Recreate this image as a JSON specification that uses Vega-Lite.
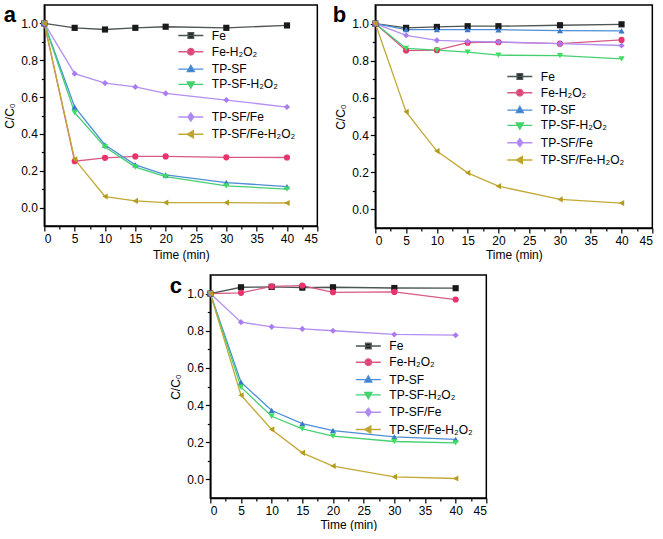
{
  "$schema": "https://vega.github.io/schema/vega-lite/v6.json",
  "padding": {"left": 2, "top": 2, "right": 0, "bottom": 0},
  "background": "white",
  "config": {
    "font": "Liberation Sans",
    "view": {"stroke": "black", "strokeWidth": 1.5},
    "axis": {"domainColor": "black", "domainWidth": 1.5, "tickColor": "black", "tickWidth": 1.2, "tickSize": 5, "labelFont": "Liberation Sans", "labelFontSize": 12, "labelColor": "black", "labelPadding": 2, "titleFont": "Liberation Sans", "titleFontSize": 12, "titleFontWeight": "normal", "titleColor": "black", "grid": false},
    "legend": {"labelFont": "Liberation Sans", "labelFontSize": 12, "labelColor": "black", "symbolSize": 100, "labelOffset": 15, "rowPadding": 3.3, "padding": 0, "symbolStrokeWidth": 1.4, "symbolOpacity": 1, "title": null}
  },
  "datasets": {
    "a": [
      {"s":"Fe","t":0,"c":1.0},{"s":"Fe","t":5,"c":0.976},{"s":"Fe","t":10,"c":0.967},{"s":"Fe","t":15,"c":0.976},{"s":"Fe","t":20,"c":0.982},{"s":"Fe","t":30,"c":0.976},{"s":"Fe","t":40,"c":0.989},
      {"s":"Fe-H₂O₂","t":0,"c":1.0},{"s":"Fe-H₂O₂","t":5,"c":0.252},{"s":"Fe-H₂O₂","t":10,"c":0.27},{"s":"Fe-H₂O₂","t":15,"c":0.278},{"s":"Fe-H₂O₂","t":20,"c":0.278},{"s":"Fe-H₂O₂","t":30,"c":0.273},{"s":"Fe-H₂O₂","t":40,"c":0.272},
      {"s":"TP-SF","t":0,"c":1.0},{"s":"TP-SF","t":5,"c":0.546},{"s":"TP-SF","t":10,"c":0.34},{"s":"TP-SF","t":15,"c":0.232},{"s":"TP-SF","t":20,"c":0.177},{"s":"TP-SF","t":30,"c":0.136},{"s":"TP-SF","t":40,"c":0.114},
      {"s":"TP-SF-H₂O₂","t":0,"c":1.0},{"s":"TP-SF-H₂O₂","t":5,"c":0.515},{"s":"TP-SF-H₂O₂","t":10,"c":0.329},{"s":"TP-SF-H₂O₂","t":15,"c":0.22},{"s":"TP-SF-H₂O₂","t":20,"c":0.168},{"s":"TP-SF-H₂O₂","t":30,"c":0.118},{"s":"TP-SF-H₂O₂","t":40,"c":0.1},
      {"s":"TP-SF/Fe","t":0,"c":1.0},{"s":"TP-SF/Fe","t":5,"c":0.727},{"s":"TP-SF/Fe","t":10,"c":0.676},{"s":"TP-SF/Fe","t":15,"c":0.655},{"s":"TP-SF/Fe","t":20,"c":0.62},{"s":"TP-SF/Fe","t":30,"c":0.584},{"s":"TP-SF/Fe","t":40,"c":0.546},
      {"s":"TP-SF/Fe-H₂O₂","t":0,"c":1.0},{"s":"TP-SF/Fe-H₂O₂","t":5,"c":0.262},{"s":"TP-SF/Fe-H₂O₂","t":10,"c":0.06},{"s":"TP-SF/Fe-H₂O₂","t":15,"c":0.036},{"s":"TP-SF/Fe-H₂O₂","t":20,"c":0.027},{"s":"TP-SF/Fe-H₂O₂","t":30,"c":0.027},{"s":"TP-SF/Fe-H₂O₂","t":40,"c":0.025}
    ],
    "b": [
      {"s":"Fe","t":0,"c":1.0},{"s":"Fe","t":5,"c":0.977},{"s":"Fe","t":10,"c":0.982},{"s":"Fe","t":15,"c":0.986},{"s":"Fe","t":20,"c":0.986},{"s":"Fe","t":30,"c":0.991},{"s":"Fe","t":40,"c":0.996},
      {"s":"Fe-H₂O₂","t":0,"c":1.0},{"s":"Fe-H₂O₂","t":5,"c":0.855},{"s":"Fe-H₂O₂","t":10,"c":0.857},{"s":"Fe-H₂O₂","t":15,"c":0.897},{"s":"Fe-H₂O₂","t":20,"c":0.9},{"s":"Fe-H₂O₂","t":30,"c":0.892},{"s":"Fe-H₂O₂","t":40,"c":0.912},
      {"s":"TP-SF","t":0,"c":1.0},{"s":"TP-SF","t":5,"c":0.968},{"s":"TP-SF","t":10,"c":0.968},{"s":"TP-SF","t":15,"c":0.968},{"s":"TP-SF","t":20,"c":0.967},{"s":"TP-SF","t":30,"c":0.962},{"s":"TP-SF","t":40,"c":0.961},
      {"s":"TP-SF-H₂O₂","t":0,"c":1.0},{"s":"TP-SF-H₂O₂","t":5,"c":0.866},{"s":"TP-SF-H₂O₂","t":10,"c":0.857},{"s":"TP-SF-H₂O₂","t":15,"c":0.846},{"s":"TP-SF-H₂O₂","t":20,"c":0.83},{"s":"TP-SF-H₂O₂","t":30,"c":0.828},{"s":"TP-SF-H₂O₂","t":40,"c":0.81},
      {"s":"TP-SF/Fe","t":0,"c":1.0},{"s":"TP-SF/Fe","t":5,"c":0.937},{"s":"TP-SF/Fe","t":10,"c":0.91},{"s":"TP-SF/Fe","t":15,"c":0.904},{"s":"TP-SF/Fe","t":20,"c":0.901},{"s":"TP-SF/Fe","t":30,"c":0.892},{"s":"TP-SF/Fe","t":40,"c":0.882},
      {"s":"TP-SF/Fe-H₂O₂","t":0,"c":1.0},{"s":"TP-SF/Fe-H₂O₂","t":5,"c":0.525},{"s":"TP-SF/Fe-H₂O₂","t":10,"c":0.314},{"s":"TP-SF/Fe-H₂O₂","t":15,"c":0.197},{"s":"TP-SF/Fe-H₂O₂","t":20,"c":0.125},{"s":"TP-SF/Fe-H₂O₂","t":30,"c":0.054},{"s":"TP-SF/Fe-H₂O₂","t":40,"c":0.034}
    ],
    "c": [
      {"s":"Fe","t":0,"c":1.0},{"s":"Fe","t":5,"c":1.034},{"s":"Fe","t":10,"c":1.036},{"s":"Fe","t":15,"c":1.032},{"s":"Fe","t":20,"c":1.034},{"s":"Fe","t":30,"c":1.03},{"s":"Fe","t":40,"c":1.029},
      {"s":"Fe-H₂O₂","t":0,"c":1.0},{"s":"Fe-H₂O₂","t":5,"c":1.004},{"s":"Fe-H₂O₂","t":10,"c":1.039},{"s":"Fe-H₂O₂","t":15,"c":1.043},{"s":"Fe-H₂O₂","t":20,"c":1.007},{"s":"Fe-H₂O₂","t":30,"c":1.009},{"s":"Fe-H₂O₂","t":40,"c":0.968},
      {"s":"TP-SF","t":0,"c":1.0},{"s":"TP-SF","t":5,"c":0.523},{"s":"TP-SF","t":10,"c":0.371},{"s":"TP-SF","t":15,"c":0.3},{"s":"TP-SF","t":20,"c":0.263},{"s":"TP-SF","t":30,"c":0.229},{"s":"TP-SF","t":40,"c":0.215},
      {"s":"TP-SF-H₂O₂","t":0,"c":1.0},{"s":"TP-SF-H₂O₂","t":5,"c":0.496},{"s":"TP-SF-H₂O₂","t":10,"c":0.34},{"s":"TP-SF-H₂O₂","t":15,"c":0.272},{"s":"TP-SF-H₂O₂","t":20,"c":0.233},{"s":"TP-SF-H₂O₂","t":30,"c":0.204},{"s":"TP-SF-H₂O₂","t":40,"c":0.197},
      {"s":"TP-SF/Fe","t":0,"c":1.0},{"s":"TP-SF/Fe","t":5,"c":0.846},{"s":"TP-SF/Fe","t":10,"c":0.821},{"s":"TP-SF/Fe","t":15,"c":0.81},{"s":"TP-SF/Fe","t":20,"c":0.8},{"s":"TP-SF/Fe","t":30,"c":0.78},{"s":"TP-SF/Fe","t":40,"c":0.776},
      {"s":"TP-SF/Fe-H₂O₂","t":0,"c":1.0},{"s":"TP-SF/Fe-H₂O₂","t":5,"c":0.453},{"s":"TP-SF/Fe-H₂O₂","t":10,"c":0.269},{"s":"TP-SF/Fe-H₂O₂","t":15,"c":0.143},{"s":"TP-SF/Fe-H₂O₂","t":20,"c":0.072},{"s":"TP-SF/Fe-H₂O₂","t":30,"c":0.014},{"s":"TP-SF/Fe-H₂O₂","t":40,"c":0.005}
    ]
  },
  "vconcat": [
    {
      "hconcat": [
        {
          "width": 273, "height": 221,
          "data": {"name": "a"},
          "layer": [
            {"mark": {"type": "line", "strokeWidth": 1.3},
             "encoding": {
               "x": {"field": "t", "type": "quantitative", "scale": {"domain": [0, 45], "nice": false, "zero": false}, "axis": {"values": [0,5,10,15,20,25,30,35,40,45], "title": "Time (min)", "titlePadding": 5}},
               "y": {"field": "c", "type": "quantitative", "scale": {"domain": [-0.1, 1.1], "nice": false, "zero": false}, "axis": {"values": [0,0.2,0.4,0.6,0.8,1.0], "format": ".1f", "title": "C/C₀", "titlePadding": 4}},
               "detail": {"field": "s", "type": "nominal"},
               "stroke": {"condition": [{"test": "datum.s==='Fe'", "value": "#4d5555"}, {"test": "datum.s==='Fe-H₂O₂'", "value": "#d85a85"}, {"test": "datum.s==='TP-SF'", "value": "#4c8fd6"}, {"test": "datum.s==='TP-SF-H₂O₂'", "value": "#45cf72"}, {"test": "datum.s==='TP-SF/Fe'", "value": "#b38ff2"}], "value": "#c2a935"}
             }},
            {"mark": {"type": "point", "filled": true, "opacity": 1, "size": 38, "strokeWidth": 0},
             "encoding": {
               "x": {"field": "t", "type": "quantitative", "axis": null},
               "y": {"field": "c", "type": "quantitative", "axis": null},
               "fill": {"condition": [{"test": "datum.s==='Fe'", "value": "#1a1a1a"}, {"test": "datum.s==='Fe-H₂O₂'", "value": "#e8336b"}, {"test": "datum.s==='TP-SF'", "value": "#3a78c9"}, {"test": "datum.s==='TP-SF-H₂O₂'", "value": "#3be05c"}, {"test": "datum.s==='TP-SF/Fe'", "value": "#a97cf2"}], "value": "#b49c1f"},
               "shape": {"condition": [{"test": "datum.s==='Fe'", "value": "square"}, {"test": "datum.s==='Fe-H₂O₂'", "value": "circle"}, {"test": "datum.s==='TP-SF'", "value": "triangle-up"}, {"test": "datum.s==='TP-SF-H₂O₂'", "value": "triangle-down"}, {"test": "datum.s==='TP-SF/Fe'", "value": "diamond"}], "value": "triangle-left"}
             }},
            {"transform": [{"filter": "datum.t < 0"}],
             "mark": {"type": "point", "filled": true, "opacity": 1},
             "encoding": {
               "x": {"field": "t", "type": "quantitative", "axis": null},
               "y": {"field": "c", "type": "quantitative", "axis": null},
               "fill": {"field": "s", "type": "nominal", "scale": {"domain": ["Fe","Fe-H₂O₂","TP-SF","TP-SF-H₂O₂"," ","TP-SF/Fe","TP-SF/Fe-H₂O₂"], "range": ["#1a1a1a","#e8336b","#3a78c9","#3be05c","transparent","#a97cf2","#b49c1f"]}, "legend": {"orient": "none", "legendX": 140.5, "legendY": 24.5}},
               "stroke": {"field": "s", "type": "nominal", "scale": {"domain": ["Fe","Fe-H₂O₂","TP-SF","TP-SF-H₂O₂"," ","TP-SF/Fe","TP-SF/Fe-H₂O₂"], "range": ["#4d5555","#d85a85","#4c8fd6","#45cf72","transparent","#b38ff2","#c2a935"]}, "legend": {"orient": "none", "legendX": 140.5, "legendY": 24.5}},
               "shape": {"field": "s", "type": "nominal", "scale": {"domain": ["Fe","Fe-H₂O₂","TP-SF","TP-SF-H₂O₂"," ","TP-SF/Fe","TP-SF/Fe-H₂O₂"], "range": ["M-2.5,0H2.5M-0.55,-0.55H0.55V0.55H-0.55Z","M-2.5,0H2.5M0.65,0A0.65,0.65 0 1,1 -0.65,0A0.65,0.65 0 1,1 0.65,0Z","M-2.5,0H2.5M0,-0.75L0.7,0.5H-0.7Z","M-2.5,0H2.5M0,0.75L0.7,-0.5H-0.7Z","M0,0","M-2.5,0H2.5M0,-0.8L0.6,0L0,0.8L-0.6,0Z","M-2.5,0H2.5M-0.75,0L0.5,-0.7V0.7Z"]}, "legend": {"orient": "none", "legendX": 140.5, "legendY": 24.5}}
             }},
            {"mark": {"type": "point", "opacity": 0},
             "encoding": {
               "x": {"field": "t", "type": "quantitative", "axis": {"orient": "bottom", "values": [2.5,7.5,12.5,17.5,22.5,27.5,32.5,37.5,42.5], "labels": false, "domain": false, "tickSize": 3, "title": null}},
               "y": {"field": "c", "type": "quantitative", "axis": {"orient": "left", "values": [0.1,0.3,0.5,0.7,0.9], "labels": false, "domain": false, "tickSize": 3, "title": "a", "titleAngle": 0, "titleX": -41, "titleY": 16, "titleAlign": "left", "titleBaseline": "alphabetic", "titleFontSize": 22, "titleFontWeight": "bold"}}
             }}
          ],
          "resolve": {"axis": {"x": "independent", "y": "independent"}}
        },
        {
          "width": 277, "height": 223,
          "data": {"name": "b"},
          "layer": [
            {"mark": {"type": "line", "strokeWidth": 1.3},
             "encoding": {
               "x": {"field": "t", "type": "quantitative", "scale": {"domain": [0, 45], "nice": false, "zero": false}, "axis": {"values": [0,5,10,15,20,25,30,35,40,45], "title": "Time (min)", "titlePadding": 3}},
               "y": {"field": "c", "type": "quantitative", "scale": {"domain": [-0.1, 1.1], "nice": false, "zero": false}, "axis": {"values": [0,0.2,0.4,0.6,0.8,1.0], "format": ".1f", "title": "C/C₀", "titlePadding": 4}},
               "detail": {"field": "s", "type": "nominal"},
               "stroke": {"condition": [{"test": "datum.s==='Fe'", "value": "#4d5555"}, {"test": "datum.s==='Fe-H₂O₂'", "value": "#d85a85"}, {"test": "datum.s==='TP-SF'", "value": "#4c8fd6"}, {"test": "datum.s==='TP-SF-H₂O₂'", "value": "#45cf72"}, {"test": "datum.s==='TP-SF/Fe'", "value": "#b38ff2"}], "value": "#c2a935"}
             }},
            {"mark": {"type": "point", "filled": true, "opacity": 1, "size": 38, "strokeWidth": 0},
             "encoding": {
               "x": {"field": "t", "type": "quantitative", "axis": null},
               "y": {"field": "c", "type": "quantitative", "axis": null},
               "fill": {"condition": [{"test": "datum.s==='Fe'", "value": "#1a1a1a"}, {"test": "datum.s==='Fe-H₂O₂'", "value": "#e8336b"}, {"test": "datum.s==='TP-SF'", "value": "#3a78c9"}, {"test": "datum.s==='TP-SF-H₂O₂'", "value": "#3be05c"}, {"test": "datum.s==='TP-SF/Fe'", "value": "#a97cf2"}], "value": "#b49c1f"},
               "shape": {"condition": [{"test": "datum.s==='Fe'", "value": "square"}, {"test": "datum.s==='Fe-H₂O₂'", "value": "circle"}, {"test": "datum.s==='TP-SF'", "value": "triangle-up"}, {"test": "datum.s==='TP-SF-H₂O₂'", "value": "triangle-down"}, {"test": "datum.s==='TP-SF/Fe'", "value": "diamond"}], "value": "triangle-left"}
             }},
            {"transform": [{"filter": "datum.t < 0"}],
             "mark": {"type": "point", "filled": true, "opacity": 1},
             "encoding": {
               "x": {"field": "t", "type": "quantitative", "axis": null},
               "y": {"field": "c", "type": "quantitative", "axis": null},
               "fill": {"field": "s", "type": "nominal", "scale": {"domain": ["Fe","Fe-H₂O₂","TP-SF","TP-SF-H₂O₂","TP-SF/Fe","TP-SF/Fe-H₂O₂"], "range": ["#1a1a1a","#e8336b","#3a78c9","#3be05c","#a97cf2","#b49c1f"]}, "legend": {"orient": "none", "legendX": 138.5, "legendY": 65.5}},
               "stroke": {"field": "s", "type": "nominal", "scale": {"domain": ["Fe","Fe-H₂O₂","TP-SF","TP-SF-H₂O₂","TP-SF/Fe","TP-SF/Fe-H₂O₂"], "range": ["#4d5555","#d85a85","#4c8fd6","#45cf72","#b38ff2","#c2a935"]}, "legend": {"orient": "none", "legendX": 138.5, "legendY": 65.5}},
               "shape": {"field": "s", "type": "nominal", "scale": {"domain": ["Fe","Fe-H₂O₂","TP-SF","TP-SF-H₂O₂","TP-SF/Fe","TP-SF/Fe-H₂O₂"], "range": ["M-2.5,0H2.5M-0.55,-0.55H0.55V0.55H-0.55Z","M-2.5,0H2.5M0.65,0A0.65,0.65 0 1,1 -0.65,0A0.65,0.65 0 1,1 0.65,0Z","M-2.5,0H2.5M0,-0.75L0.7,0.5H-0.7Z","M-2.5,0H2.5M0,0.75L0.7,-0.5H-0.7Z","M-2.5,0H2.5M0,-0.8L0.6,0L0,0.8L-0.6,0Z","M-2.5,0H2.5M-0.75,0L0.5,-0.7V0.7Z"]}, "legend": {"orient": "none", "legendX": 138.5, "legendY": 65.5}}
             }},
            {"mark": {"type": "point", "opacity": 0},
             "encoding": {
               "x": {"field": "t", "type": "quantitative", "axis": {"orient": "bottom", "values": [2.5,7.5,12.5,17.5,22.5,27.5,32.5,37.5,42.5], "labels": false, "domain": false, "tickSize": 3, "title": null}},
               "y": {"field": "c", "type": "quantitative", "axis": {"orient": "left", "values": [0.1,0.3,0.5,0.7,0.9], "labels": false, "domain": false, "tickSize": 3, "title": "b", "titleAngle": 0, "titleX": -43, "titleY": 16, "titleAlign": "left", "titleBaseline": "alphabetic", "titleFontSize": 22, "titleFontWeight": "bold"}}
             }}
          ],
          "resolve": {"axis": {"x": "independent", "y": "independent"}}
        }
      ],
      "spacing": 12,
      "resolve": {"scale": {"fill": "independent", "stroke": "independent", "shape": "independent"}, "legend": {"fill": "independent", "stroke": "independent", "shape": "independent"}}
    },
    {
      "width": 276, "height": 223,
      "data": {"name": "c"},
      "layer": [
        {"mark": {"type": "line", "strokeWidth": 1.3},
         "encoding": {
           "x": {"field": "t", "type": "quantitative", "scale": {"domain": [0, 45], "nice": false, "zero": false}, "axis": {"values": [0,5,10,15,20,25,30,35,40,45], "title": "Time (min)", "titlePadding": 3}},
           "y": {"field": "c", "type": "quantitative", "scale": {"domain": [-0.1, 1.1], "nice": false, "zero": false}, "axis": {"values": [0,0.2,0.4,0.6,0.8,1.0], "format": ".1f", "title": "C/C₀", "titlePadding": 4}},
           "detail": {"field": "s", "type": "nominal"},
           "stroke": {"condition": [{"test": "datum.s==='Fe'", "value": "#4d5555"}, {"test": "datum.s==='Fe-H₂O₂'", "value": "#d85a85"}, {"test": "datum.s==='TP-SF'", "value": "#4c8fd6"}, {"test": "datum.s==='TP-SF-H₂O₂'", "value": "#45cf72"}, {"test": "datum.s==='TP-SF/Fe'", "value": "#b38ff2"}], "value": "#c2a935"}
         }},
        {"mark": {"type": "point", "filled": true, "opacity": 1, "size": 38, "strokeWidth": 0},
         "encoding": {
           "x": {"field": "t", "type": "quantitative", "axis": null},
           "y": {"field": "c", "type": "quantitative", "axis": null},
           "fill": {"condition": [{"test": "datum.s==='Fe'", "value": "#1a1a1a"}, {"test": "datum.s==='Fe-H₂O₂'", "value": "#e8336b"}, {"test": "datum.s==='TP-SF'", "value": "#3a78c9"}, {"test": "datum.s==='TP-SF-H₂O₂'", "value": "#3be05c"}, {"test": "datum.s==='TP-SF/Fe'", "value": "#a97cf2"}], "value": "#b49c1f"},
           "shape": {"condition": [{"test": "datum.s==='Fe'", "value": "square"}, {"test": "datum.s==='Fe-H₂O₂'", "value": "circle"}, {"test": "datum.s==='TP-SF'", "value": "triangle-up"}, {"test": "datum.s==='TP-SF-H₂O₂'", "value": "triangle-down"}, {"test": "datum.s==='TP-SF/Fe'", "value": "diamond"}], "value": "triangle-left"}
         }},
        {"transform": [{"filter": "datum.t < 0"}],
         "mark": {"type": "point", "filled": true, "opacity": 1},
         "encoding": {
           "x": {"field": "t", "type": "quantitative", "axis": null},
           "y": {"field": "c", "type": "quantitative", "axis": null},
           "fill": {"field": "s", "type": "nominal", "scale": {"domain": ["Fe","Fe-H₂O₂","TP-SF","TP-SF-H₂O₂","TP-SF/Fe","TP-SF/Fe-H₂O₂"], "range": ["#1a1a1a","#e8336b","#3a78c9","#3be05c","#a97cf2","#b49c1f"]}, "legend": {"orient": "none", "legendX": 152, "legendY": 65}},
           "stroke": {"field": "s", "type": "nominal", "scale": {"domain": ["Fe","Fe-H₂O₂","TP-SF","TP-SF-H₂O₂","TP-SF/Fe","TP-SF/Fe-H₂O₂"], "range": ["#4d5555","#d85a85","#4c8fd6","#45cf72","#b38ff2","#c2a935"]}, "legend": {"orient": "none", "legendX": 152, "legendY": 65}},
           "shape": {"field": "s", "type": "nominal", "scale": {"domain": ["Fe","Fe-H₂O₂","TP-SF","TP-SF-H₂O₂","TP-SF/Fe","TP-SF/Fe-H₂O₂"], "range": ["M-2.5,0H2.5M-0.55,-0.55H0.55V0.55H-0.55Z","M-2.5,0H2.5M0.65,0A0.65,0.65 0 1,1 -0.65,0A0.65,0.65 0 1,1 0.65,0Z","M-2.5,0H2.5M0,-0.75L0.7,0.5H-0.7Z","M-2.5,0H2.5M0,0.75L0.7,-0.5H-0.7Z","M-2.5,0H2.5M0,-0.8L0.6,0L0,0.8L-0.6,0Z","M-2.5,0H2.5M-0.75,0L0.5,-0.7V0.7Z"]}, "legend": {"orient": "none", "legendX": 152, "legendY": 65}}
         }},
        {"mark": {"type": "point", "opacity": 0},
         "encoding": {
           "x": {"field": "t", "type": "quantitative", "axis": {"orient": "bottom", "values": [2.5,7.5,12.5,17.5,22.5,27.5,32.5,37.5,42.5], "labels": false, "domain": false, "tickSize": 3, "title": null}},
           "y": {"field": "c", "type": "quantitative", "axis": {"orient": "left", "values": [0.1,0.3,0.5,0.7,0.9], "labels": false, "domain": false, "tickSize": 3, "title": "c", "titleAngle": 0, "titleX": -41, "titleY": 17, "titleAlign": "left", "titleBaseline": "alphabetic", "titleFontSize": 22, "titleFontWeight": "bold"}}
         }}
      ],
      "resolve": {"axis": {"x": "independent", "y": "independent"}}
    }
  ],
  "spacing": 12,
  "center": true,
  "resolve": {"scale": {"fill": "independent", "stroke": "independent", "shape": "independent"}, "legend": {"fill": "independent", "stroke": "independent", "shape": "independent"}}
}
